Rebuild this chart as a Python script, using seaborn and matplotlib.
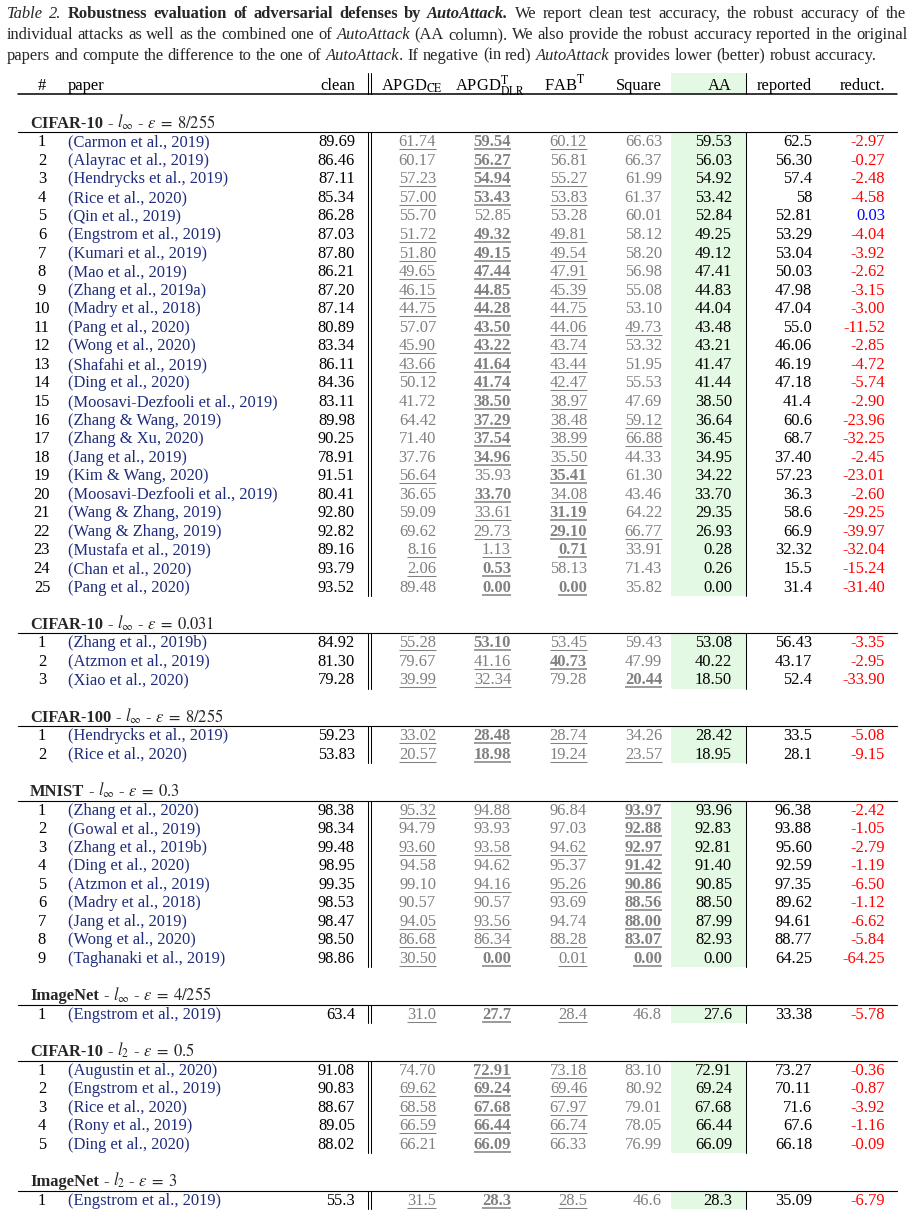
import matplotlib
matplotlib.use("Agg")
import matplotlib.pyplot as plt
import seaborn as sns

sns.set_theme(style="white")
plt.rcParams["font.family"] = ["Liberation Serif", "DejaVu Serif"]
plt.rcParams["mathtext.fontset"] = "stix"

# ---- table data ----
datasets = ["CIFAR-10", "CIFAR-10", "CIFAR-100", "MNIST", "ImageNet", "CIFAR-10", "ImageNet"]
norms = [r"l_\infty", r"l_\infty", r"l_\infty", r"l_\infty", r"l_\infty", r"l_2", r"l_2"]
epsilons = ["8/255", "0.031", "8/255", "0.3", "4/255", "0.5", "3"]
section_sizes = [25, 3, 2, 9, 1, 5, 1]

papers = [
    "Carmon et al., 2019", "Alayrac et al., 2019", "Hendrycks et al., 2019", "Rice et al., 2020",
    "Qin et al., 2019", "Engstrom et al., 2019", "Kumari et al., 2019", "Mao et al., 2019",
    "Zhang et al., 2019a", "Madry et al., 2018", "Pang et al., 2020", "Wong et al., 2020",
    "Shafahi et al., 2019", "Ding et al., 2020", "Moosavi-Dezfooli et al., 2019", "Zhang & Wang, 2019",
    "Zhang & Xu, 2020", "Jang et al., 2019", "Kim & Wang, 2020", "Moosavi-Dezfooli et al., 2019",
    "Wang & Zhang, 2019", "Wang & Zhang, 2019", "Mustafa et al., 2019", "Chan et al., 2020",
    "Pang et al., 2020",
    "Zhang et al., 2019b", "Atzmon et al., 2019", "Xiao et al., 2020",
    "Hendrycks et al., 2019", "Rice et al., 2020",
    "Zhang et al., 2020", "Gowal et al., 2019", "Zhang et al., 2019b", "Ding et al., 2020",
    "Atzmon et al., 2019", "Madry et al., 2018", "Jang et al., 2019", "Wong et al., 2020",
    "Taghanaki et al., 2019",
    "Engstrom et al., 2019",
    "Augustin et al., 2020", "Engstrom et al., 2019", "Rice et al., 2020", "Rony et al., 2019",
    "Ding et al., 2020",
    "Engstrom et al., 2019",
]
clean = [
    "89.69", "86.46", "87.11", "85.34", "86.28", "87.03", "87.80", "86.21", "87.20", "87.14",
    "80.89", "83.34", "86.11", "84.36", "83.11", "89.98", "90.25", "78.91", "91.51", "80.41",
    "92.80", "92.82", "89.16", "93.79", "93.52",
    "84.92", "81.30", "79.28",
    "59.23", "53.83",
    "98.38", "98.34", "99.48", "98.95", "99.35", "98.53", "98.47", "98.50", "98.86",
    "63.4",
    "91.08", "90.83", "88.67", "89.05", "88.02",
    "55.3",
]
apgd_ce = [
    "61.74", "60.17", "57.23", "57.00", "55.70", "51.72", "51.80", "49.65", "46.15", "44.75",
    "57.07", "45.90", "43.66", "50.12", "41.72", "64.42", "71.40", "37.76", "56.64", "36.65",
    "59.09", "69.62", "8.16", "2.06", "89.48",
    "55.28", "79.67", "39.99",
    "33.02", "20.57",
    "95.32", "94.79", "93.60", "94.58", "99.10", "90.57", "94.05", "86.68", "30.50",
    "31.0",
    "74.70", "69.62", "68.58", "66.59", "66.21",
    "31.5",
]
apgd_dlr = [
    "59.54", "56.27", "54.94", "53.43", "52.85", "49.32", "49.15", "47.44", "44.85", "44.28",
    "43.50", "43.22", "41.64", "41.74", "38.50", "37.29", "37.54", "34.96", "35.93", "33.70",
    "33.61", "29.73", "1.13", "0.53", "0.00",
    "53.10", "41.16", "32.34",
    "28.48", "18.98",
    "94.88", "93.93", "93.58", "94.62", "94.16", "90.57", "93.56", "86.34", "0.00",
    "27.7",
    "72.91", "69.24", "67.68", "66.44", "66.09",
    "28.3",
]
fab = [
    "60.12", "56.81", "55.27", "53.83", "53.28", "49.81", "49.54", "47.91", "45.39", "44.75",
    "44.06", "43.74", "43.44", "42.47", "38.97", "38.48", "38.99", "35.50", "35.41", "34.08",
    "31.19", "29.10", "0.71", "58.13", "0.00",
    "53.45", "40.73", "79.28",
    "28.74", "19.24",
    "96.84", "97.03", "94.62", "95.37", "95.26", "93.69", "94.74", "88.28", "0.01",
    "28.4",
    "73.18", "69.46", "67.97", "66.74", "66.33",
    "28.5",
]
square = [
    "66.63", "66.37", "61.99", "61.37", "60.01", "58.12", "58.20", "56.98", "55.08", "53.10",
    "49.73", "53.32", "51.95", "55.53", "47.69", "59.12", "66.88", "44.33", "61.30", "43.46",
    "64.22", "66.77", "33.91", "71.43", "35.82",
    "59.43", "47.99", "20.44",
    "34.26", "23.57",
    "93.97", "92.88", "92.97", "91.42", "90.86", "88.56", "88.00", "83.07", "0.00",
    "46.8",
    "83.10", "80.92", "79.01", "78.05", "76.99",
    "46.6",
]
aa = [
    "59.53", "56.03", "54.92", "53.42", "52.84", "49.25", "49.12", "47.41", "44.83", "44.04",
    "43.48", "43.21", "41.47", "41.44", "38.50", "36.64", "36.45", "34.95", "34.22", "33.70",
    "29.35", "26.93", "0.28", "0.26", "0.00",
    "53.08", "40.22", "18.50",
    "28.42", "18.95",
    "93.96", "92.83", "92.81", "91.40", "90.85", "88.50", "87.99", "82.93", "0.00",
    "27.6",
    "72.91", "69.24", "67.68", "66.44", "66.09",
    "28.3",
]
reported = [
    "62.5", "56.30", "57.4", "58", "52.81", "53.29", "53.04", "50.03", "47.98", "47.04",
    "55.0", "46.06", "46.19", "47.18", "41.4", "60.6", "68.7", "37.40", "57.23", "36.3",
    "58.6", "66.9", "32.32", "15.5", "31.4",
    "56.43", "43.17", "52.4",
    "33.5", "28.1",
    "96.38", "93.88", "95.60", "92.59", "97.35", "89.62", "94.61", "88.77", "64.25",
    "33.38",
    "73.27", "70.11", "71.6", "67.6", "66.18",
    "35.09",
]
reduct = [
    "-2.97", "-0.27", "-2.48", "-4.58", "0.03", "-4.04", "-3.92", "-2.62", "-3.15", "-3.00",
    "-11.52", "-2.85", "-4.72", "-5.74", "-2.90", "-23.96", "-32.25", "-2.45", "-23.01", "-2.60",
    "-29.25", "-39.97", "-32.04", "-15.24", "-31.40",
    "-3.35", "-2.95", "-33.90",
    "-5.08", "-9.15",
    "-2.42", "-1.05", "-2.79", "-1.19", "-6.50", "-1.12", "-6.62", "-5.84", "-64.25",
    "-5.78",
    "-0.36", "-0.87", "-3.92", "-1.16", "-0.09",
    "-6.79",
]
# per attack column: '.' plain, 'u' underlined, 'b' bold + underlined
marks = [
    "ubu.", ".b..", "ubu.", "ubu.", "....", "ubu.", "ubu.", "ubu.", "ubu.", "ubu.",
    ".buu", "ubu.", "ubu.", ".bu.", ".bu.", ".buu", ".buu", ".bu.", "u.b.", ".bu.",
    ".ub.", ".ubu", "uub.", "ub..", ".bb.",
    "ubu.", ".ub.", "uu.b",
    "ubu.", "ubuu",
    "uu.b", "...b", "uuub", "...b", ".uub", "...b", "uu.b", "uuub", "ubub",
    "ubu.",
    ".bu.", "ubu.", "ubu.", "ubu.", ".b..",
    "ubu.",
]

caption_lines = [
    [("Table 2. ", "i"), ("Robustness evaluation of adversarial defenses by ", "b"),
     ("AutoAttack.", "bi"), (" We report clean test accuracy, the robust accuracy of the", "n")],
    [("individual attacks as well as the combined one of ", "n"), ("AutoAttack", "i"),
     (" (AA column). We also provide the robust accuracy reported in the original", "n")],
    [("papers and compute the difference to the one of ", "n"), ("AutoAttack", "i"),
     (". If negative (in red) ", "n"), ("AutoAttack", "i"),
     (" provides lower (better) robust accuracy.", "n")],
]

# ---- layout (pixel units) ----
W, H = 913, 1221
FS = 11.9
CS = 11.9
GRAY = "#808080"
GREEN = "#e3f9e3"
BLUE = "#1f2c7c"
X_NUM, X_PAPER, X_CLEAN = 42, 68, 355
X_ATK = [436, 511, 587, 662]
X_ATK_HEAD = [412, 490, 565, 639]
X_AA, X_REP, X_RED = 732, 812, 885
X_VL = [367.5, 371, 746]
BAND = (671, 746)
RULE_X = (18, 897)
STEP = 18.55

fig = plt.figure(figsize=(W / 100, H / 100), dpi=100)
ax = fig.add_axes([0, 0, 1, 1])
ax.set_xlim(0, W)
ax.set_ylim(H, 0)
ax.axis("off")
renderer = fig.canvas.get_renderer()

STYLES = {"n": {}, "i": {"style": "italic"}, "b": {"weight": "bold"},
          "bi": {"weight": "bold", "style": "italic"}}


def width(t):
    return t.get_window_extent(renderer=renderer).width


def put_words(x, y, runs, size, justify=None):
    chars = [(c, st) for txt, st in runs for c in txt]
    words, cur = [], []
    for c, st in chars:
        if c == " ":
            if cur:
                words.append(cur)
                cur = []
        else:
            cur.append((c, st))
    if cur:
        words.append(cur)
    placed = []
    for w in words:
        pcs = []
        for c, st in w:
            if pcs and pcs[-1][1] == st:
                pcs[-1][0] += c
            else:
                pcs.append([c, st])
        objs = [ax.text(0, y, p, fontsize=size, va="baseline", ha="left", **STYLES[st])
                for p, st in pcs]
        placed.append((objs, [width(o) for o in objs]))
    p1 = ax.text(0, y, "n n", fontsize=size)
    p2 = ax.text(0, y, "nn", fontsize=size)
    sp = width(p1) - width(p2)
    p1.remove()
    p2.remove()
    total = sum(sum(ws) for _, ws in placed)
    gap = sp
    if justify is not None and len(placed) > 1:
        gap = (justify - x - total) / (len(placed) - 1)
    cx = x
    for objs, ws in placed:
        for o, w in zip(objs, ws):
            o.set_x(cx)
            cx += w
        cx += gap


def cell(x, y, s, ha="right", color="black", weight="normal"):
    return ax.text(x, y, s, ha=ha, va="baseline", color=color, fontsize=FS, fontweight=weight)


def block(top, bottom):
    ax.fill_between(BAND, top, bottom, color=GREEN, lw=0, zorder=0)
    for xv in X_VL:
        ax.plot([xv, xv], [top, bottom], color="black", lw=0.75)


# caption
for runs, base, just in zip(caption_lines, [18.5, 39, 59.5], [906, 908, None]):
    put_words(7, base, runs, CS, justify=just)

# header
hb = 90.5
block(73, 94.3)
cell(X_NUM, hb, "#", ha="center")
cell(X_PAPER, hb, "paper", ha="left")
cell(X_CLEAN, hb, "clean")
for xh, lab in zip(X_ATK_HEAD, [r"APGD$_{\mathrm{CE}}$", r"APGD$^{\mathrm{T}}_{\mathrm{DLR}}$",
                                r"FAB$^{\mathrm{T}}$", "Square"]):
    cell(xh, hb, lab, ha="center")
cell(X_AA, hb, "AA")
cell(X_REP, hb, "reported")
cell(X_RED, hb, "reduct.")
ax.plot(RULE_X, [94.3, 94.3], color="black", lw=1.1)

# sections
title_y = 122.3
start = 0
for k, n in enumerate(section_sizes):
    put_words(30, title_y + 5.5,
              [(datasets[k], "b"), (f" - ${norms[k]}$ - $\\epsilon\\;=\\;{epsilons[k]}$", "n")], FS)
    rule_y = title_y + 10
    rows_y = [rule_y + 8.5 + i * STEP for i in range(n)]
    block(rule_y, rows_y[-1] + 10)
    ax.plot(RULE_X, [rule_y, rule_y], color="black", lw=0.8)
    for i, ry in enumerate(rows_y):
        r = start + i
        b = ry + 5.5
        cell(X_NUM, b, str(i + 1), ha="center")
        cell(X_PAPER, b, f"({papers[r]})", ha="left", color=BLUE)
        cell(X_CLEAN, b, clean[r])
        for xa, vals, m in zip(X_ATK, [apgd_ce, apgd_dlr, fab, square], marks[r]):
            t = cell(xa, b, vals[r], color=GRAY, weight="bold" if m == "b" else "normal")
            if m in "ub":
                bb = t.get_window_extent(renderer=renderer)
                ax.plot([bb.x0, bb.x1], [b + 3, b + 3], color=GRAY,
                        lw=1.1 if m == "b" else 0.75, solid_capstyle="butt")
        cell(X_AA, b, aa[r])
        cell(X_REP, b, reported[r])
        cell(X_RED, b, reduct[r], color="red" if float(reduct[r]) < 0 else "blue")
    start += n
    title_y = rows_y[-1] + 37.3

fig.savefig("out.png", dpi=100)
